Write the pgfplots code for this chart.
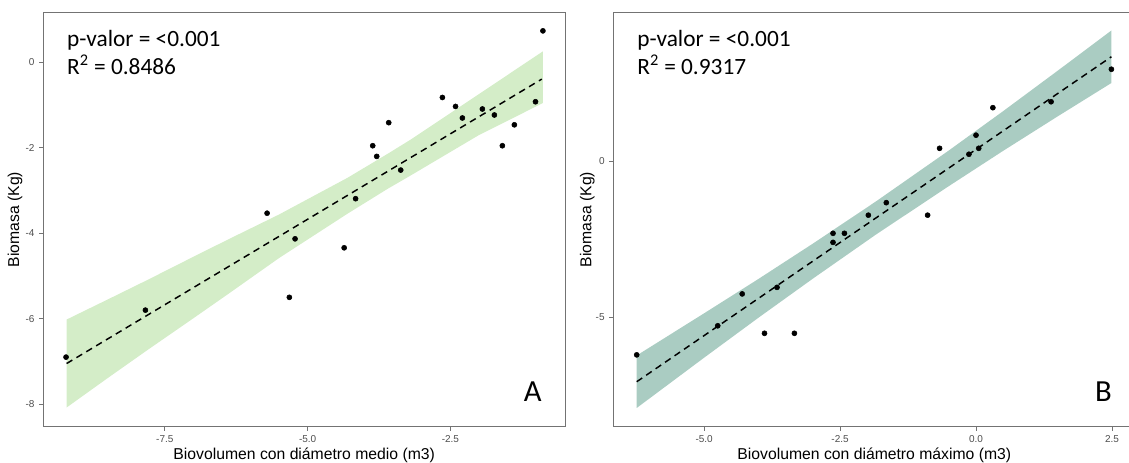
\documentclass[border=0pt]{standalone}
\usepackage{pgfplots}
\pgfplotsset{compat=1.18}
\usepackage{fontspec}
\setmainfont{Liberation Sans}
\newfontfamily\carlito{Carlito}

\definecolor{boxgray}{RGB}{115,115,115}
\definecolor{tickgray}{RGB}{77,77,77}
\definecolor{bandA}{RGB}{147,210,117}
\definecolor{bandB}{RGB}{42,127,102}

\pgfplotsset{
  panel/.style={
    width=391.5pt, height=311pt, scale only axis,
    axis line style={boxgray, line width=0.8pt},
    tick style={boxgray, line width=0.6pt},
    tick align=outside, major tick length=3pt,
    xtick pos=bottom, ytick pos=left,
    tick label style={font=\fontsize{7.5}{8}\selectfont, text=tickgray},
    label style={font=\fontsize{11.8}{13}\selectfont},
    x label style={at={(axis description cs:0.5,-0.068)}, anchor=center},
    y label style={at={(axis description cs:-0.054,0.5)}, anchor=center},
    ylabel={Biomasa (Kg)},
  },
  pts/.style={only marks, mark=*, mark size=1.9pt, black},
  fit/.style={black, line width=1.1pt, dash pattern=on 5pt off 3.6pt},
}

\begin{document}
\begin{tikzpicture}
% panel A: diametro medio
\begin{axis}[panel, at={(0,0)}, anchor=south west,
    xmin=-9.63, xmax=-0.49, ymin=-8.53, ymax=1.18,
    xtick={-7.5,-5,-2.5}, xticklabels={-7.5,-5.0,-2.5},
    ytick={-8,-6,-4,-2,0}, yticklabels={-8,-6,-4,-2,0},
    xlabel={Biovolumen con diámetro medio (m3)}]
  \addplot[pts] coordinates {
    (-9.23,-6.90) (-7.84,-5.80) (-5.71,-3.53) (-5.32,-5.50) (-5.22,-4.13)
    (-4.36,-4.34) (-4.16,-3.19) (-3.86,-1.95) (-3.79,-2.20) (-3.58,-1.41)
    (-3.37,-2.52) (-2.64,-0.82) (-2.41,-1.03) (-2.29,-1.30) (-1.94,-1.09)
    (-1.73,-1.23) (-1.59,-1.95) (-1.38,-1.46) (-1.01,-0.92) (-0.88,0.74)};
  % confidence band: upper edge left to right, lower edge right to left
  \addplot[draw=none, fill=bandA, fill opacity=0.4] coordinates {
    (-9.22,-6.02) (-8.5,-5.55) (-7.8,-5.09) (-7.0,-4.55) (-6.4,-4.15)
    (-5.5,-3.56) (-4.3,-2.70) (-3.6,-2.14) (-3.2,-1.81) (-2.0,-0.74) (-0.88,0.26)
    (-0.88,-0.95) (-2.0,-1.70) (-3.2,-2.65) (-3.6,-2.96) (-4.3,-3.54)
    (-5.5,-4.58) (-6.4,-5.43) (-7.0,-5.99) (-7.8,-6.73) (-8.5,-7.39) (-9.22,-8.08)} -- cycle;
  \addplot[fit] coordinates {(-9.22,-7.05) (-0.90,-0.39)};
  \node[anchor=base west, font=\carlito\fontsize{17.5}{20}\selectfont]
    at (axis description cs:0.037,0.918) {p-valor = <0.001};
  \node[anchor=base west, font=\carlito\fontsize{17.5}{20}\selectfont]
    at (axis description cs:0.037,0.850) {R\textsuperscript{2} = 0.8486};
  \node[anchor=base east, font=\carlito\fontsize{23}{24}\selectfont]
    at (axis description cs:0.964,0.06) {A};
\end{axis}

% panel B: diametro maximo
\begin{axis}[panel, at={(427.6pt,0)}, anchor=south west,
    xmin=-6.67, xmax=2.93, ymin=-8.5, ymax=4.77,
    xtick={-5,-2.5,0,2.5}, xticklabels={-5.0,-2.5,0.0,2.5},
    ytick={-5,0}, yticklabels={-5,0},
    y label style={at={(axis description cs:-0.05,0.5)}},
    xlabel={Biovolumen con diámetro máximo (m3)}]
  \addplot[pts] coordinates {
    (-6.24,-6.20) (-4.75,-5.27) (-4.30,-4.25) (-3.89,-5.51) (-3.66,-4.04)
    (-3.34,-5.51) (-2.63,-2.31) (-2.63,-2.60) (-2.42,-2.31) (-1.98,-1.73)
    (-1.65,-1.33) (-0.89,-1.73) (-0.67,0.41) (-0.13,0.22) (0.00,0.83)
    (0.05,0.41) (0.31,1.71) (1.38,1.90) (2.49,2.94)};
  \addplot[draw=none, fill=bandB, fill opacity=0.4] coordinates {
    (-6.24,-6.22) (-5,-4.87) (-4,-3.77) (-3,-2.64) (-1.84,-1.29)
    (-0.5,0.34) (0.5,1.60) (1.5,2.89) (2.49,4.18)
    (2.49,2.50) (1.5,1.43) (0.5,0.33) (-0.5,-0.80) (-1.84,-2.35)
    (-3,-3.76) (-4,-5.01) (-5,-6.29) (-6.24,-7.90)} -- cycle;
  \addplot[fit] coordinates {(-6.24,-7.06) (2.49,3.34)};
  \node[anchor=base west, font=\carlito\fontsize{17.5}{20}\selectfont]
    at (axis description cs:0.037,0.918) {p-valor = <0.001};
  \node[anchor=base west, font=\carlito\fontsize{17.5}{20}\selectfont]
    at (axis description cs:0.037,0.850) {R\textsuperscript{2} = 0.9317};
  \node[anchor=base east, font=\carlito\fontsize{23}{24}\selectfont]
    at (axis description cs:0.964,0.06) {B};
\end{axis}
\pgfresetboundingbox
\path[use as bounding box] (-32.4pt,-27.2pt) rectangle (814.35pt,320.05pt);
\end{tikzpicture}
\end{document}
